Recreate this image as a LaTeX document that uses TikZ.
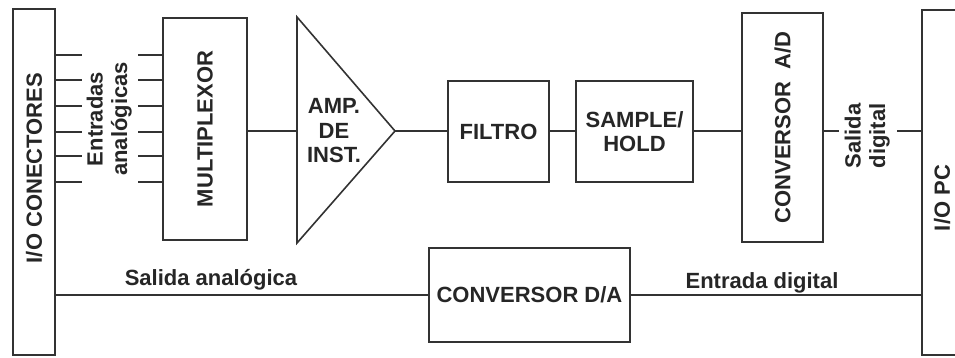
\documentclass[tikz,border=0pt]{standalone}
\usepackage{fontspec}
\setmainfont{Liberation Sans}
\usepackage{tikz}
\tikzset{
  wire/.style={line width=1.6pt, draw=black!80},
  blk/.style={draw=black!80, line width=1.6pt, inner sep=0pt},
  lbl/.style={font=\bfseries\fontsize{22}{24.5}\selectfont, text=black!85, inner sep=0pt},
}
\begin{document}
\begin{tikzpicture}[x=1pt,y=-1pt]
\useasboundingbox (0,0) rectangle (955,358);
\clip (0,0) rectangle (955,358);
%% conectores y multiplexor
\node[blk, minimum width=42pt, minimum height=346pt] (con) at (34,182) {};
\node[lbl] at (34,168) {\rotatebox{90}{I/O CONECTORES}};
\node[lbl, minimum width=56pt] (ent) at (110,119) {\rotatebox{90}{\begin{tabular}{@{}c@{}}Entradas\\analógicas\end{tabular}}};
\node[blk, lbl, minimum width=84pt, minimum height=222pt] (mux) at (205,129) {\rotatebox{90}{MULTIPLEXOR}};
\foreach \y in {55,80,106,132,156,182} {
  \coordinate (p) at (0,\y);
  \draw[wire] (con.east |- p) -- (ent.west |- p);
  \draw[wire] (ent.east |- p) -- (mux.west |- p);
}
%% amplificador
\coordinate (ampin) at (297,131);
\coordinate (ampout) at (395,131);
\draw[wire, line join=miter] (297,17) -- (ampout) -- (297,243) -- cycle;
\node[lbl, align=center] (amp) at (334,131) {AMP.\\DE\\INST.};
\draw[wire] (ampin -| mux.east) -- (ampin);
%% filtro, sample/hold, A/D
\node[blk, lbl, minimum width=101pt, minimum height=101pt] (fil) at (498.5,131.5) {FILTRO};
\node[blk, lbl, minimum width=117pt, minimum height=101pt, align=center] (sh) at (634.5,131.5) {SAMPLE/\\HOLD};
\node[blk, lbl, minimum width=81pt, minimum height=229pt] (ad) at (782.5,127.5) {\rotatebox{90}{CONVERSOR\ \ A/D}};
\node[lbl, minimum width=58pt] (sd) at (868,136) {\rotatebox{90}{\begin{tabular}{@{}c@{}}Salida\\digital\end{tabular}}};
%% I/O PC
\node[blk, minimum width=42pt, minimum height=345pt] (pc) at (943,182.5) {};
\node[lbl] at (942,198) {\rotatebox{90}{I/O PC}};
%%
\draw[wire] (ampout) -- (fil.west |- ampout);
\draw[wire] (fil.east |- ampout) -- (sh.west |- ampout);
\draw[wire] (sh.east |- ampout) -- (ad.west |- ampout);
\draw[wire] (ad.east |- ampout) -- (sd.west |- ampout);
\draw[wire] (sd.east |- ampout) -- (pc.west |- ampout);
%% D/A
\node[blk, lbl, minimum width=201pt, minimum height=94pt] (da) at (529.5,295) {CONVERSOR D/A};
\draw[wire] (con.east |- da.west) -- (da.west);
\draw[wire] (da.east) -- (pc.west |- da.east);
\node[lbl, anchor=base] at (211,285) {Salida analógica};
\node[lbl, anchor=base] at (762,288) {Entrada digital};
\end{tikzpicture}
\end{document}
